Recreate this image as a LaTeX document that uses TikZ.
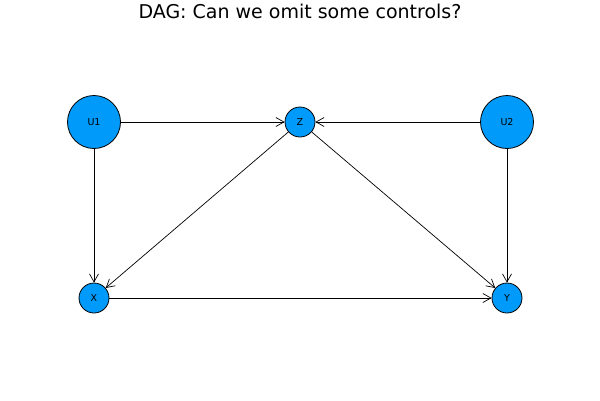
\documentclass[tikz,border=0pt]{standalone}
\usepackage{fontspec}
\setmainfont{DejaVu Sans}
\usetikzlibrary{arrows.meta}
\definecolor{nodeblue}{RGB}{0,154,250}
\begin{document}
\begin{tikzpicture}[x=1pt,y=-1pt,
  vertex/.style={circle,draw=black,line width=0.8pt,fill=nodeblue,inner sep=0pt,font=\fontsize{9.5}{9.5}\selectfont},
  small/.style={vertex,minimum size=30pt},
  big/.style={vertex,minimum size=53pt},
  edge/.style={line width=0.7pt,-{Straight Barb[length=8pt,width=9pt,line width=0.7pt]}}]
\useasboundingbox[fill=white] (0,0) rectangle (600,400);
\node[font=\fontsize{19}{19}\selectfont] (title) at (300,11) {DAG: Can we omit some controls?};
\node[big] (u1) at (94,122) {U1};
\node[small] (z) at (300,122) {Z};
\node[big] (u2) at (507,122) {U2};
\node[small] (x) at (94,298) {X};
\node[small] (y) at (507,298) {Y};
\draw[edge] (u1) -- (z);
\draw[edge] (u2) -- (z);
\draw[edge] (u1) -- (x);
\draw[edge] (z) -- (x);
\draw[edge] (z) -- (y);
\draw[edge] (u2) -- (y);
\draw[edge] (x) -- (y);
\end{tikzpicture}
\end{document}
